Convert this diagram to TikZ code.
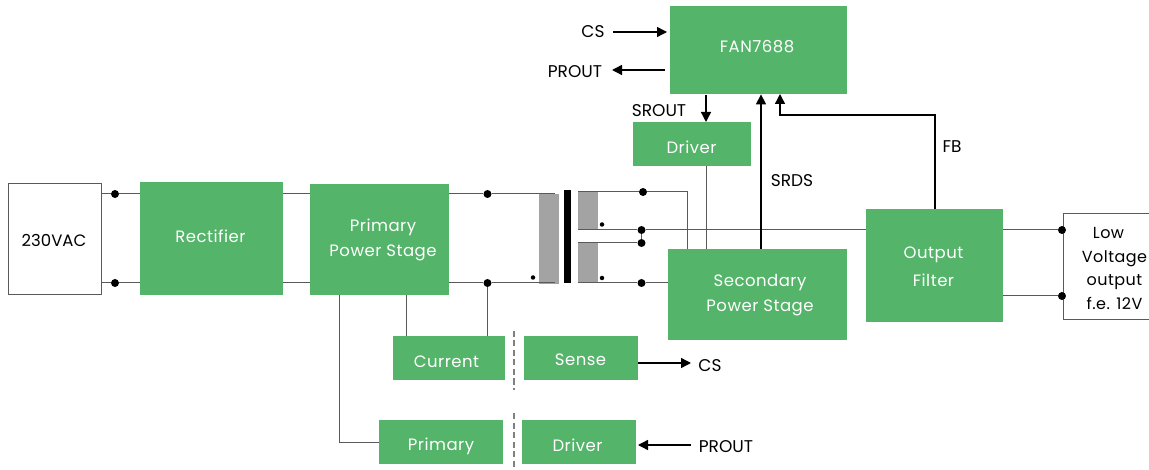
\documentclass[tikz,border=0pt]{standalone}
\usepackage{fontspec}
\setmainfont{Poppins}
\newfontfamily\boxfont[LetterSpace=3]{Poppins}
\usetikzlibrary{arrows.meta,calc}
\definecolor{fgreen}{HTML}{54B46A}
\definecolor{coregray}{HTML}{A3A3A3}
\definecolor{wiregray}{HTML}{5A5A5A}
\tikzset{
  x=1pt,y=-1pt,
  gbox/.style={fill=fgreen,inner sep=0pt,anchor=north west},
  gtxt/.style={text=white,font=\boxfont\fontsize{16.5}{25}\selectfont,align=center,inner sep=0pt},
  wbox/.style={draw=wiregray,line width=1pt,fill=white,inner sep=0pt,anchor=north west},
  lbl/.style={text=black,font=\fontsize{17}{20}\selectfont,inner sep=0pt},
  wire/.style={draw=wiregray,line width=1pt},
  sig/.style={draw=black,line width=1.4pt,-{Triangle[length=10pt,width=10pt]}},
  dotn/.style={circle,fill=black,inner sep=0pt,minimum size=8pt},
  dots/.style={circle,fill=black,inner sep=0pt,minimum size=4.5pt},
  iso/.style={draw=gray,line width=1.5pt,dash pattern=on 6pt off 3.5pt},
}
% name, x0, x1, y0, y1
\newcommand{\gb}[5]{\node[gbox,minimum width=#3 pt-#2 pt,minimum height=#5 pt-#4 pt] (#1) at (#2,#4) {};}
\begin{document}
\begin{tikzpicture}
\useasboundingbox (0,0) rectangle (1149,470);
\clip (0,0) rectangle (1149,470);
% blocks
\node[wbox,minimum width=93.5pt,minimum height=111pt] (ac) at (7.5,183) {};
\gb{rect}{140}{283}{182}{295}
\gb{prim}{310}{449}{184}{295}
\gb{cur}{393}{505}{336}{380}
\gb{sense}{524}{638}{336}{380}
\gb{pri2}{379}{503}{420}{464}
\gb{drv2}{522}{636}{420}{464}
\gb{fan}{670}{847}{6}{94}
\gb{drv1}{633}{751}{122}{166}
\gb{sec}{668}{847}{249}{340}
\gb{filt}{866}{1003}{209}{322}
\node[wbox,minimum width=92pt,minimum height=106pt] (low) at (1063,213) {};
% block texts
\node[text=black,font=\fontsize{16.5}{24}\selectfont,inner sep=0pt] (tac) at (54,240) {230VAC};
\node[gtxt] (trect) at (210.5,236.5) {Rectifier};
\node[gtxt] (tprim) at (383,239.5) {Primary\\Power Stage};
\node[gtxt] (tcur) at (446.5,362) {Current};
\node[gtxt] (tsense) at (580.5,360) {Sense};
\node[gtxt] (tpri2) at (441,446) {Primary};
\node[gtxt] (tdrv2) at (577.5,445) {Driver};
\node[gtxt] (tfan) at (757,47) {FAN7688};
\node[gtxt] (tdrv1) at (691.5,147) {Driver};
\node[gtxt] (tsec) at (760,295.5) {Secondary\\Power Stage};
\node[gtxt,font=\boxfont\fontsize{16.5}{28}\selectfont] (tfilt) at (933.5,267) {Output\\Filter};
\node[gtxt,text=black,font=\boxfont\fontsize{16}{23.5}\selectfont] (tlow) at (1114.5,268.5) {Low\hspace*{12pt}\\Voltage\\output\\f.e. 12V};
% transformer
\fill[coregray] (539,194) rectangle (559,284);
\fill[black] (563.5,190) rectangle (571,283);
\fill[coregray] (578,192) rectangle (598,230);
\fill[coregray] (578,243) rectangle (598,283);
% wire ends and junctions
\coordinate (pt) at (555,194);
\coordinate (pb) at (555,283);
\coordinate (st) at (578,192);
\coordinate (sm) at (578,230);
\coordinate (sn) at (578,243);
\coordinate (sb) at (578,283);
\node[dotn] (j1) at (115,194) {};
\node[dotn] (j2) at (115,283) {};
\node[dotn] (j3) at (487.5,194) {};
\node[dotn] (j4) at (487.5,283) {};
\node[dotn] (j5) at (643,192) {};
\node[dotn] (j6) at (641.5,230) {};
\node[dotn] (j7) at (641.5,243) {};
\node[dotn] (j8) at (641.5,283) {};
\node[dotn] (j9) at (1062,230) {};
\node[dotn] (j10) at (1062,296) {};
\node[dots] (d1) at (533,277.5) {};
\node[dots] (d2) at (602,224.5) {};
\node[dots] (d3) at (602,278) {};
% wires
\draw[wire] (ac.east |- j1) -- (j1) -- (rect.west |- j1);
\draw[wire] (ac.east |- j2) -- (j2) -- (rect.west |- j2);
\draw[wire] (rect.east |- j1) -- (prim.west |- j1);
\draw[wire] (rect.east |- j2) -- (prim.west |- j2);
\draw[wire] (prim.east |- j3) -- (j3) -- (pt);
\draw[wire] (prim.east |- j4) -- (j4) -- (pb);
\draw[wire] (j4) -- (j4 |- cur.north);
\draw[wire] (406,295) coordinate (cu) -- (cu |- cur.north);
\draw[wire] (339,295) coordinate (pd) |- (pri2.west);
\draw[wire] (st) -- (j5) -- (687,192) coordinate (c1) -- (c1 |- sec.north);
\draw[wire] (sm) -- (j6) -- (filt.west |- j6);
\draw[wire] (sn) -- (j7) -- (j6);
\draw[wire] (sb) -- (j8) -- (sec.west |- j8);
\draw[wire] (706.5,166) coordinate (c2) -- (c2 |- sec.north);
\draw[wire] (filt.east |- j9) -- (j9);
\draw[wire] (filt.east |- j10) -- (j10);
% signals
\coordinate (csin) at (613,32);
\coordinate (prout) at (665,70);
\coordinate (prend) at (612,70);
\draw[sig] (csin) -- (667,32);
\draw[sig] (prout) -- (prend);
\draw[sig] (706,95) coordinate (c3) -- (c3 |- drv1.north);
\draw[sig] (761,249) coordinate (c4) -- (c4 |- fan.south);
\draw[sig] (935,209) coordinate (c5) -- (935,115) -- (780,115) -- (780,94);
\coordinate (cse) at (691,363);
\coordinate (pre) at (691,445);
\draw[sig] (sense.east |- cse) -- (cse);
\draw[sig] (pre) -- (638,445);
% isolation
\coordinate (i1) at (514,331); \coordinate (i2) at (514,390);
\coordinate (i3) at (514,413); \coordinate (i4) at (514,470);
\draw[iso] (i1) -- (i2);
\draw[iso] (i3) -- (i4);
% labels
\node[lbl] (l1) at (593,32) {CS};
\node[lbl] (l2) at (575,72) {PROUT};
\node[lbl] (l3) at (659,111) {SROUT};
\node[lbl] (l4) at (792,181) {SRDS};
\node[lbl] (l5) at (952,147) {FB};
\node[lbl] (l6) at (710,366) {CS};
\node[lbl] (l7) at (726,447) {PROUT};
\end{tikzpicture}
\end{document}
